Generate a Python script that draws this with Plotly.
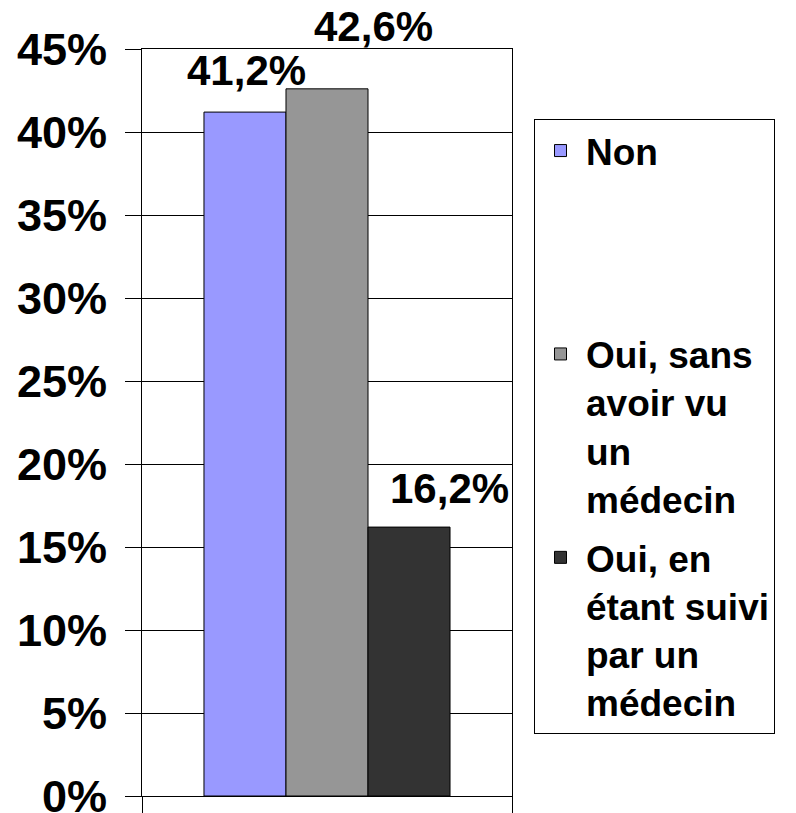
import plotly.graph_objects as go

# ---- data ----
category = ["Total"]
series_names = ["Non", "Oui, sans avoir vu un médecin", "Oui, en étant suivi par un médecin"]
legend_labels = ["Non<br> <br> <br> ",
                 "Oui, sans<br>avoir vu<br>un<br>médecin",
                 "Oui, en<br>étant suivi<br>par un<br>médecin"]
values = [41.2, 42.6, 16.2]
value_labels = ["41,2%", "42,6%", "16,2%"]
y_ticks = [0, 5, 10, 15, 20, 25, 30, 35, 40, 45]
y_tick_labels = ["0%", "5%", "10%", "15%", "20%", "25%", "30%", "35%", "40%", "45%"]

# ---- style ----
colors = ["#9999FF", "#969696", "#333333"]
FONT = "Liberation Sans, Arial, sans-serif"
# the page body has an 8px margin, so the figure is drawn 8px in from the corner
OFF = 8
W, H = 796 - OFF, 813 - OFF
ML, MR, MT, MB = 142 - OFF, 284, 49 - OFF, 17
BARGAP = 0.335
plot_w = W - ML - MR
plot_h = H - MT - MB
bar_px = plot_w * (1 - BARGAP) / len(values)
label_dx = [2, 46, 40]
label_dy = [16, 37, 13]

fig = go.Figure()
for i, (name, lab, v, c) in enumerate(zip(series_names, legend_labels, values, colors)):
    fig.add_trace(go.Bar(
        x=category, y=[v], name=lab, legendgroup=name,
        marker=dict(color=c, line=dict(color="black", width=1)),
        hovertext=name,
    ))

annotations = []
for i, (v, t) in enumerate(zip(values, value_labels)):
    annotations.append(dict(
        x=category[0], y=v, xref="x", yref="y", text=t, showarrow=False,
        xanchor="center", yanchor="bottom",
        xshift=(i - (len(values) - 1) / 2) * bar_px + label_dx[i],
        yshift=label_dy[i],
        font=dict(family=FONT, size=42, color="black", weight="bold"),
    ))

fig.update_layout(
    width=W, height=H,
    margin=dict(l=ML, r=MR, t=MT, b=MB, pad=0, autoexpand=False),
    paper_bgcolor="white", plot_bgcolor="white",
    barmode="group", bargap=BARGAP, bargroupgap=0,
    font=dict(family=FONT, color="black"),
    annotations=annotations,
    showlegend=True,
    legend=dict(
        x=(534 - OFF - ML) / plot_w, xanchor="left",
        y=(H - MB - (119 - OFF)) / plot_h, yanchor="top",
        bordercolor="black", borderwidth=1, bgcolor="white",
        font=dict(family=FONT, size=37, color="black", weight="bold"),
        traceorder="grouped", tracegroupgap=8,
        itemwidth=41, valign="top",
    ),
)
fig.update_yaxes(
    range=[0, 45], tickvals=y_ticks, ticktext=y_tick_labels,
    showgrid=True, gridcolor="black", gridwidth=1,
    showline=True, linecolor="black", linewidth=1, mirror=True,
    ticks="outside", ticklen=16, tickcolor="black", tickwidth=1,
    ticklabelstandoff=9, automargin=False, ticklabeloverflow="allow",
    tickfont=dict(family=FONT, size=45, color="black", weight="bold"),
    zeroline=False, fixedrange=True,
)
fig.update_xaxes(
    showline=True, linecolor="black", linewidth=1, mirror=True,
    ticks="outside", ticklen=16, tickcolor="black", tickwidth=1,
    tickson="boundaries", showticklabels=False, showgrid=False,
    automargin=False, fixedrange=True,
)

fig.write_html("out.html")
